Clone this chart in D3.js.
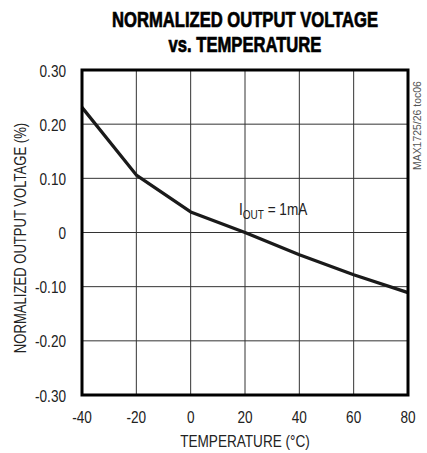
<!DOCTYPE html>
<html>
<head>
<meta charset="utf-8">
<script src="https://cdn.jsdelivr.net/npm/d3@7"></script>
<style>
  body { margin: 0; background: #fff; }
  text { font-family: "Liberation Sans", Arial, sans-serif; }
</style>
</head>
<body>
<div id="chart"></div>
<script>
// data
var temps = [-40, -20, 0, 20, 40, 60, 80];
var vout = [0.231, 0.106, 0.038, 0.0, -0.041, -0.078, -0.111];

var xTicks = [-40, -20, 0, 20, 40, 60, 80];
var yTicks = [0.3, 0.2, 0.1, 0, -0.1, -0.2, -0.3];
var yTickLabels = ["0.30", "0.20", "0.10", "0", "-0.10", "-0.20", "-0.30"];

var W = 427, H = 453;
var margin = {top: 70, right: 19, bottom: 58, left: 82};
var squeeze = 0.8; // the original uses a condensed face

var svg = d3.select("#chart").append("svg")
  .attr("width", W)
  .attr("height", H);

var x = d3.scaleLinear().domain([-40, 80]).range([margin.left, W - margin.right]);
var y = d3.scaleLinear().domain([-0.3, 0.3]).range([H - margin.bottom, margin.top]);

// grid
svg.append("g").selectAll("line")
  .data(xTicks.slice(1, -1))
  .enter().append("line")
  .attr("x1", d => x(d)).attr("x2", d => x(d))
  .attr("y1", y(0.3)).attr("y2", y(-0.3))
  .attr("stroke", "#333").attr("stroke-width", 1);

svg.append("g").selectAll("line")
  .data(yTicks.slice(1, -1))
  .enter().append("line")
  .attr("y1", d => y(d)).attr("y2", d => y(d))
  .attr("x1", x(-40)).attr("x2", x(80))
  .attr("stroke", "#333").attr("stroke-width", 1);

// data line
var line = d3.line().x((d, i) => x(temps[i])).y(d => y(d));
svg.append("path")
  .datum(vout)
  .attr("d", line)
  .attr("fill", "none")
  .attr("stroke", "#1a1a1a")
  .attr("stroke-width", 3.2)
  .attr("stroke-linejoin", "round");

// frame
svg.append("rect")
  .attr("x", x(-40)).attr("y", y(0.3))
  .attr("width", x(80) - x(-40)).attr("height", y(-0.3) - y(0.3))
  .attr("fill", "none").attr("stroke", "#000").attr("stroke-width", 3);

// tick labels
svg.append("g").selectAll("text")
  .data(yTicks)
  .enter().append("text")
  .attr("transform", d => "translate(66," + (y(d) + 6.5) + ") scale(" + squeeze + ",1)")
  .attr("text-anchor", "end")
  .attr("font-size", 17)
  .attr("fill", "#222")
  .text((d, i) => yTickLabels[i]);

svg.append("g").selectAll("text")
  .data(xTicks)
  .enter().append("text")
  .attr("transform", d => "translate(" + x(d) + ",423) scale(" + squeeze + ",1)")
  .attr("text-anchor", "middle")
  .attr("font-size", 17)
  .attr("fill", "#222")
  .text(d => d);

// axis titles
svg.append("text")
  .attr("transform", "translate(245,447) scale(" + squeeze + ",1)")
  .attr("text-anchor", "middle")
  .attr("font-size", 17)
  .attr("fill", "#222")
  .text("TEMPERATURE (°C)");

svg.append("text")
  .attr("transform", "translate(26,238) rotate(-90) scale(0.77,1)")
  .attr("text-anchor", "middle")
  .attr("font-size", 17)
  .attr("fill", "#222")
  .text("NORMALIZED OUTPUT VOLTAGE (%)");

// title, heavy condensed
var titleLines = ["NORMALIZED OUTPUT VOLTAGE", "vs. TEMPERATURE"];
svg.append("g").selectAll("text")
  .data(titleLines)
  .enter().append("text")
  .attr("transform", (d, i) => "translate(245," + (27 + i * 25) + ") scale(0.755,1)")
  .attr("text-anchor", "middle")
  .attr("font-size", 22)
  .attr("font-weight", "bold")
  .attr("fill", "#000")
  .attr("stroke", "#000")
  .attr("stroke-width", 0.7)
  .text(d => d);

// annotation
var ann = svg.append("text")
  .attr("transform", "translate(239,215) scale(" + squeeze + ",1)")
  .attr("font-size", 17)
  .attr("fill", "#222");
ann.append("tspan").text("I");
ann.append("tspan").attr("font-size", 12.5).attr("dy", 4).text("OUT");
ann.append("tspan").attr("dy", -4).text(" = 1mA");

// side note
svg.append("text")
  .attr("transform", "translate(421,170) rotate(-90) scale(0.95,1)")
  .attr("font-size", 11)
  .attr("fill", "#555")
  .text("MAX1725/26 toc06");
</script>
</body>
</html>
